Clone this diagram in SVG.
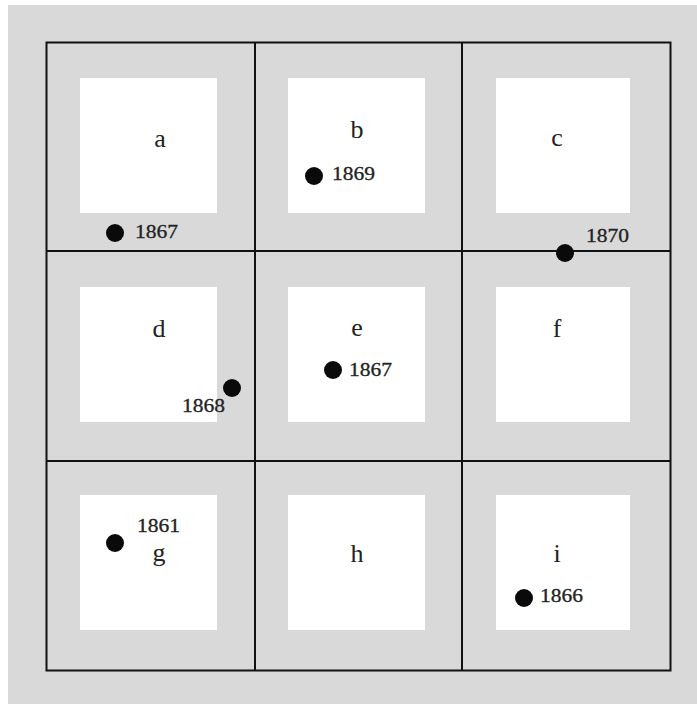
<svg xmlns="http://www.w3.org/2000/svg" width="697" height="726" viewBox="0 0 697 726">
<style>
.cell{fill:#ffffff}
.grid{stroke:#111;stroke-width:2;fill:none}
.lbl{font-family:"Liberation Serif",serif;font-size:26px;fill:#222;text-anchor:middle}
.yr{font-family:"Liberation Serif",serif;font-size:18px;fill:#222;stroke:#222;stroke-width:0.3}
.dot{fill:#0a0a0a}
</style>
<rect x="0" y="0" width="697" height="726" fill="#ffffff"/>
<rect x="8" y="5" width="689" height="699" fill="#d9d9d9"/>
<g id="cell-a"><rect class="cell" x="80" y="78" width="137" height="135"/><text class="lbl" x="160" y="147">a</text></g>
<g id="cell-b"><rect class="cell" x="288" y="78" width="137" height="135"/><text class="lbl" x="357" y="138">b</text></g>
<g id="cell-c"><rect class="cell" x="496" y="78" width="134" height="135"/><text class="lbl" x="557" y="146">c</text></g>
<g id="cell-d"><rect class="cell" x="80" y="287" width="137" height="135"/><text class="lbl" x="159" y="337">d</text></g>
<g id="cell-e"><rect class="cell" x="288" y="287" width="137" height="135"/><text class="lbl" x="357" y="336">e</text></g>
<g id="cell-f"><rect class="cell" x="496" y="287" width="134" height="135"/><text class="lbl" x="557" y="337">f</text></g>
<g id="cell-g"><rect class="cell" x="80" y="495" width="137" height="135"/><text class="lbl" x="159" y="561">g</text></g>
<g id="cell-h"><rect class="cell" x="288" y="495" width="137" height="135"/><text class="lbl" x="357" y="562">h</text></g>
<g id="cell-i"><rect class="cell" x="496" y="495" width="134" height="135"/><text class="lbl" x="557" y="562">i</text></g>
<g id="grid">
<rect class="grid" x="46.5" y="42.5" width="624" height="628"/>
<line class="grid" x1="255" y1="42" x2="255" y2="670"/>
<line class="grid" x1="462" y1="42" x2="462" y2="670"/>
<line class="grid" x1="46" y1="251" x2="670" y2="251"/>
<line class="grid" x1="46" y1="461" x2="670" y2="461"/>
</g>
<g id="points">
<circle class="dot" cx="115" cy="233" r="9"/><text class="yr" x="135" y="238" textLength="43" lengthAdjust="spacingAndGlyphs">1867</text>
<circle class="dot" cx="314" cy="176" r="9"/><text class="yr" x="332" y="180" textLength="43" lengthAdjust="spacingAndGlyphs">1869</text>
<circle class="dot" cx="565" cy="253" r="9"/><text class="yr" x="586" y="242" textLength="43" lengthAdjust="spacingAndGlyphs">1870</text>
<circle class="dot" cx="232" cy="388" r="9"/><text class="yr" x="182" y="412" textLength="43" lengthAdjust="spacingAndGlyphs">1868</text>
<circle class="dot" cx="333" cy="370" r="9"/><text class="yr" x="349" y="376" textLength="43" lengthAdjust="spacingAndGlyphs">1867</text>
<circle class="dot" cx="115" cy="543" r="9"/><text class="yr" x="137" y="532" textLength="43" lengthAdjust="spacingAndGlyphs">1861</text>
<circle class="dot" cx="524" cy="598" r="9"/><text class="yr" x="540" y="602" textLength="43" lengthAdjust="spacingAndGlyphs">1866</text>
</g>
</svg>
